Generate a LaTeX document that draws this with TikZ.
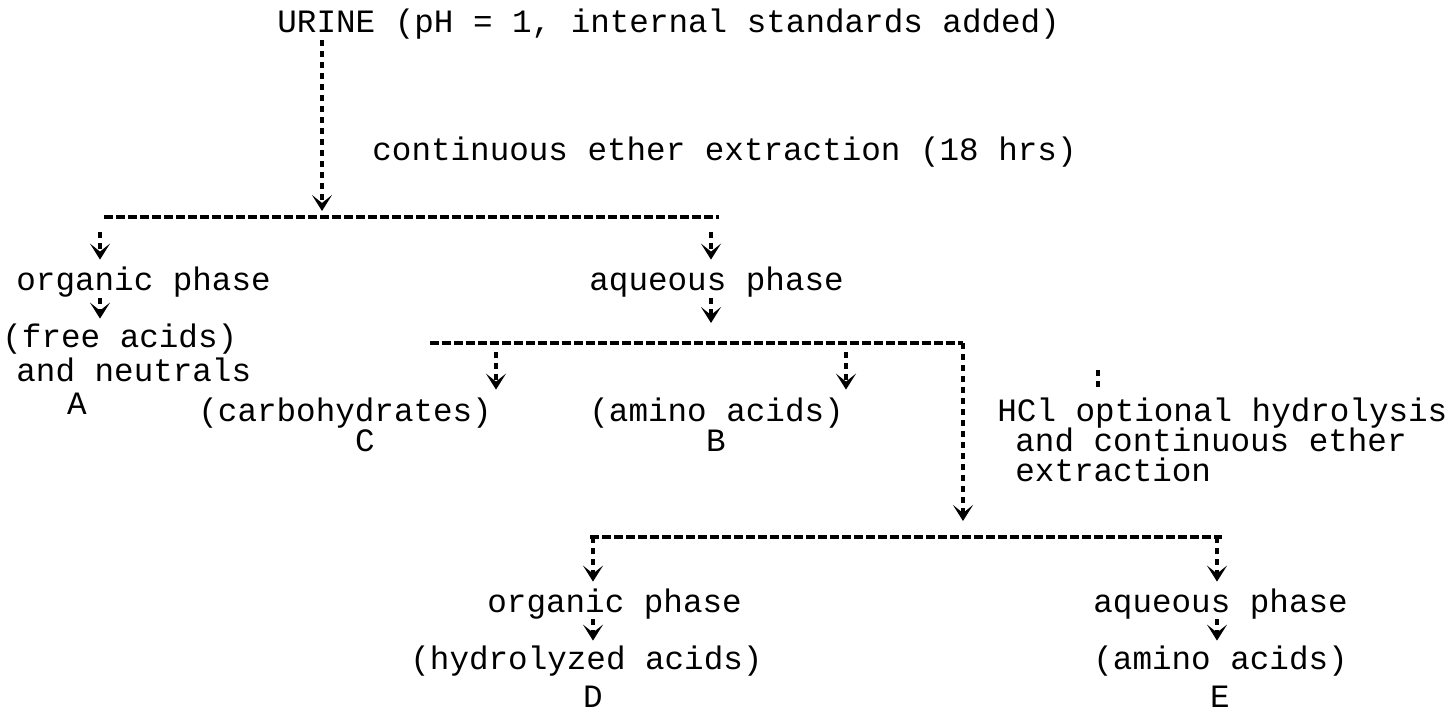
\documentclass[tikz,border=0pt]{standalone}
\usepackage{fontspec}
\setmonofont{Liberation Mono}
\usetikzlibrary{arrows.meta}
\tikzset{main/.style={line width=1.7pt, dash pattern=on 4.5pt off 1.5pt}}
\tikzset{dots/.style={line width=2pt, dash pattern=on 3pt off 2.5pt}}
\tikzset{flow/.style={dots, -{Stealth[length=8pt,width=10pt,inset=4pt]}}}
\tikzset{txt/.style={font=\ttfamily\fontsize{16.3}{18}\selectfont, inner sep=0pt, text height=11pt, text depth=3.5pt, anchor=base west}}
\tikzset{tag/.style={txt, anchor=base, text height=8.5pt, text depth=0pt}}

\begin{document}
\begin{tikzpicture}[x=0.5pt,y=-0.5pt]
	\useasboundingbox (0,0) rectangle (1456,711);
	% texts
	\node[txt] (urine) at (277,33) {URINE (pH = 1, internal standards added)};
	\node[txt] (cont) at (372,161) {continuous ether extraction (18 hrs)};
	\node[txt] (org1) at (16,291) {organic phase};
	\node[txt] (aq1) at (589,291) {aqueous phase};
	\node[txt] (free) at (2,347) {(free acids)};
	\node[txt] (neut) at (16,381) {and neutrals};
	\node[tag] (la) at (77,414) {A};
	\node[txt] (carb) at (198,421) {(carbohydrates)};
	\node[tag] (lc) at (365,451) {C};
	\node[txt] (amino1) at (589,421) {(amino acids)};
	\node[tag] (lb) at (716,451) {B};
	\node[txt] (hcl1) at (997,421) {HCl optional hydrolysis};
	\node[txt] (hcl2) at (1015,451) {and continuous ether};
	\node[txt] (hcl3) at (1015,481) {extraction};
	\node[txt] (org2) at (487,612) {organic phase};
	\node[txt] (hyd) at (410,669) {(hydrolyzed acids)};
	\node[tag] (ld) at (593,707) {D};
	\node[txt] (aq2) at (1093,612) {aqueous phase};
	\node[txt] (amino2) at (1093,669) {(amino acids)};
	\node[tag] (le) at (1220,707) {E};
	
	% bars
	\coordinate (b1w) at (104,217); \coordinate (b1e) at (719,217);
	\coordinate (b2w) at (430,343); \coordinate (b2e) at (963,343);
	\coordinate (b3w) at (590,537); \coordinate (b3e) at (1222,537);
	\draw[main] (b1w) -- (b1e);
	\draw[main] (b2w) -- (b2e);
	\draw[main] (b3w) -- (b3e);
	
	% drop points
	\coordinate (p0) at (322,217);
	\coordinate (p1) at (100,217); \coordinate (p2) at (711,217);
	\coordinate (p3) at (711,343); \coordinate (p4) at (496,343); \coordinate (p5) at (846,343);
	\coordinate (p6) at (963,537); \coordinate (p7) at (593,537); \coordinate (p8) at (1217,537);
	
	\draw[flow, shorten >=3pt] (urine.south -| p0) -- (p0);
	\draw[flow, shorten <=7.5pt, shorten >=4.5pt] (p1) -- (org1.north -| p1);
	\draw[flow, shorten <=7.5pt, shorten >=4.5pt] (p2) -- (aq1.north -| p2);
	\draw[flow, shorten >=3pt] (org1.south -| p1) -- (free.north -| p1);
	\draw[flow, shorten >=10pt] (aq1.south -| p2) -- (p3);
	\draw[flow, shorten <=4.5pt, shorten >=4.5pt] (p4) -- (carb.north -| p4);
	\draw[flow, shorten <=4.5pt, shorten >=4.5pt] (p5) -- (amino1.north -| p5);
	\draw[flow, shorten >=8pt] (b2e) -- (p6);
	\draw[flow, shorten >=4pt] (p7) -- (org2.north -| p7);
	\draw[flow, shorten >=4pt] (p8) -- (aq2.north -| p8);
	\draw[flow, shorten >=3pt] (org2.south -| p7) -- (hyd.north -| p7);
	\draw[flow, shorten >=3pt] (aq2.south -| p8) -- (amino2.north -| p8);
	% stray mark above the hydrolysis note
	\draw[dots] (1098,370) -- (1098,392);
\end{tikzpicture}
\end{document}
